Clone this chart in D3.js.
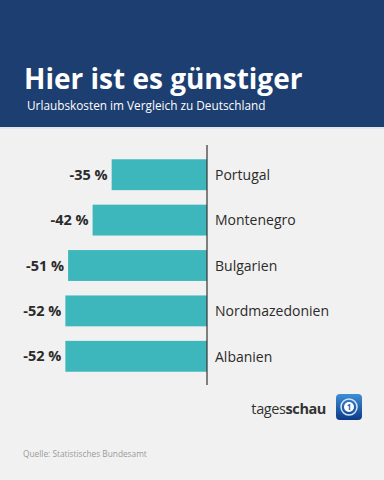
<!DOCTYPE html>
<html>
<head>
<meta charset="utf-8">
<script src="https://cdn.jsdelivr.net/npm/d3@7"></script>
<style>
  html, body { margin: 0; padding: 0; background: #f1f1f1; }
  svg { display: block; font-family: 'Open Sans', 'Noto Sans', sans-serif; }
</style>
</head>
<body>
<div id="chart"></div>
<script>
// data
const countries = ['Portugal', 'Montenegro', 'Bulgarien', 'Nordmazedonien', 'Albanien'];
const values = [-35, -42, -51, -52, -52];

const width = 384;
const height = 480;
const axisX = 207;

const svg = d3.select('#chart')
  .append('svg')
  .attr('width', width)
  .attr('height', height);

svg.append('rect')
  .attr('width', width)
  .attr('height', height)
  .attr('fill', '#f1f1f1');

// header
svg.append('rect')
  .attr('width', width)
  .attr('height', 127)
  .attr('fill', '#1d3e70');
svg.append('rect')
  .attr('y', 127)
  .attr('width', width)
  .attr('height', 2)
  .attr('fill', '#dfe6ee');

svg.append('text')
  .attr('x', 24)
  .attr('y', 89)
  .attr('fill', '#fff')
  .style('font-size', '28px')
  .style('font-weight', 'bold')
  .text('Hier ist es günstiger');

svg.append('text')
  .attr('x', 27)
  .attr('y', 110)
  .attr('fill', '#fff')
  .style('font-size', '11.8px')
  .text('Urlaubskosten im Vergleich zu Deutschland');

// scales
const data = countries.map((c, i) => ({ country: c, value: values[i] }));

const x = d3.scaleLinear().domain([-76, 0]).range([0, axisX]);
const y = d3.scaleBand()
  .domain(countries)
  .range([152, 379])
  .paddingInner(0.32)
  .paddingOuter(0.16);

const g = svg.append('g');

g.selectAll('.bar')
  .data(data)
  .enter()
  .append('rect')
  .attr('class', 'bar')
  .attr('x', d => x(d.value))
  .attr('y', d => y(d.country))
  .attr('width', d => x(0) - x(d.value))
  .attr('height', y.bandwidth())
  .attr('fill', '#3db7bb');

g.selectAll('.val')
  .data(data)
  .enter()
  .append('text')
  .attr('class', 'val')
  .attr('x', d => x(d.value) - 4)
  .attr('y', d => y(d.country) + y.bandwidth() / 2)
  .attr('dy', '0.35em')
  .attr('text-anchor', 'end')
  .attr('fill', '#2b2b2b')
  .style('font-size', '14.5px')
  .style('font-weight', 'bold')
  .text(d => d.value + ' %');

g.selectAll('.lab')
  .data(data)
  .enter()
  .append('text')
  .attr('class', 'lab')
  .attr('x', axisX + 8)
  .attr('y', d => y(d.country) + y.bandwidth() / 2)
  .attr('dy', '0.38em')
  .attr('fill', '#2b2b2b')
  .style('font-size', '14px')
  .text(d => d.country);

// axis line
svg.append('line')
  .attr('x1', x(0))
  .attr('x2', x(0))
  .attr('y1', 145)
  .attr('y2', 385)
  .attr('stroke', '#333')
  .attr('stroke-width', 1.2);

// logo
const logo = svg.append('g');
const txt = logo.append('text')
  .attr('x', 326)
  .attr('y', 414)
  .attr('text-anchor', 'end')
  .attr('fill', '#333')
  .style('font-size', '14.5px')
  .style('letter-spacing', '-0.4px');
txt.append('tspan').text('tages');
txt.append('tspan').style('font-weight', 'bold').text('schau');

const defs = svg.append('defs');
const grad = defs.append('linearGradient')
  .attr('id', 'lg')
  .attr('x1', 0).attr('y1', 0).attr('x2', 0).attr('y2', 1);
grad.append('stop').attr('offset', '0%').attr('stop-color', '#3f8fd6');
grad.append('stop').attr('offset', '100%').attr('stop-color', '#0d3a86');

logo.append('rect')
  .attr('x', 336)
  .attr('y', 394)
  .attr('width', 26)
  .attr('height', 26)
  .attr('rx', 4)
  .attr('fill', 'url(#lg)');
logo.append('circle')
  .attr('cx', 349)
  .attr('cy', 407)
  .attr('r', 8)
  .attr('fill', 'none')
  .attr('stroke', '#cfe6ff')
  .attr('stroke-width', 1.5);
logo.append('circle')
  .attr('cx', 349)
  .attr('cy', 407)
  .attr('r', 5)
  .attr('fill', '#fff');
logo.append('text')
  .attr('x', 349)
  .attr('y', 410)
  .attr('text-anchor', 'middle')
  .attr('fill', '#1f5ea8')
  .style('font-size', '8px')
  .style('font-weight', 'bold')
  .text('1');

// source
svg.append('text')
  .attr('x', 23)
  .attr('y', 457)
  .attr('fill', '#9a9a9a')
  .style('font-size', '8.3px')
  .text('Quelle: Statistisches Bundesamt');
</script>
</body>
</html>
